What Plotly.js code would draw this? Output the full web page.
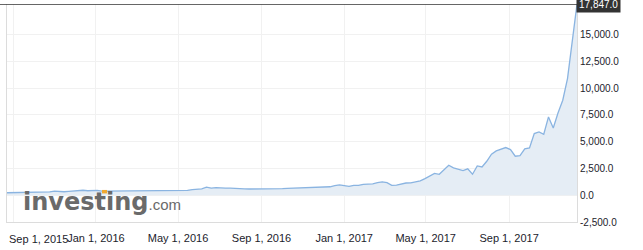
<!DOCTYPE html>
<html>
<head>
<meta charset="utf-8">
<script src="https://cdn.plot.ly/plotly-3.0.1.min.js"></script>
<style>html,body{margin:0;padding:0;background:#fff;}#chart{width:643px;height:250px;}</style>
</head>
<body>
<div id="chart"></div>
<script>
// Weekly dates (week start) and closing values
const dates2015 = ['2015-08-23','2015-08-30','2015-09-06','2015-09-13','2015-09-20','2015-09-27','2015-10-04','2015-10-11','2015-10-18','2015-10-25','2015-11-01','2015-11-08','2015-11-15','2015-11-22','2015-11-29','2015-12-06','2015-12-13','2015-12-20','2015-12-27'];
const values2015 = [229,235,235,232,235,238,246,270,283,314,385,333,323,357,389,435,463,416,434];

const dates2016 = ['2016-01-03','2016-01-10','2016-01-17','2016-01-24','2016-01-31','2016-02-07','2016-02-14','2016-02-21','2016-02-28','2016-03-06','2016-03-13','2016-03-20','2016-03-27','2016-04-03','2016-04-10','2016-04-17','2016-04-24','2016-05-01','2016-05-08','2016-05-15','2016-05-22','2016-05-29','2016-06-05','2016-06-12','2016-06-19','2016-06-26','2016-07-03','2016-07-10','2016-07-17','2016-07-24','2016-07-31','2016-08-07','2016-08-14','2016-08-21','2016-08-28','2016-09-04','2016-09-11','2016-09-18','2016-09-25','2016-10-02','2016-10-09','2016-10-16','2016-10-23','2016-10-30','2016-11-06','2016-11-13','2016-11-20','2016-11-27','2016-12-04','2016-12-11','2016-12-18','2016-12-25'];
const values2016 = [448,387,388,378,376,391,438,432,398,411,409,416,420,419,430,447,448,458,456,443,528,573,587,753,663,703,651,663,655,655,587,585,581,579,599,623,606,602,614,618,637,657,715,703,705,749,735,765,772,789,891,963];

const dates2017 = ['2017-01-01','2017-01-08','2017-01-15','2017-01-22','2017-01-29','2017-02-05','2017-02-12','2017-02-19','2017-02-26','2017-03-05','2017-03-12','2017-03-19','2017-03-26','2017-04-02','2017-04-09','2017-04-16','2017-04-23','2017-04-30','2017-05-07','2017-05-14','2017-05-21','2017-05-28','2017-06-04','2017-06-11','2017-06-18','2017-06-25','2017-07-02','2017-07-09','2017-07-16','2017-07-23','2017-07-30','2017-08-06','2017-08-13','2017-08-20','2017-08-27','2017-09-03','2017-09-10','2017-09-17','2017-09-24','2017-10-01','2017-10-08','2017-10-15','2017-10-22','2017-10-29','2017-11-05','2017-11-12','2017-11-19','2017-11-26','2017-12-03','2017-12-10'];
const values2017 = [896,822,922,919,1020,1000,1050,1170,1250,1180,920,950,1060,1140,1160,1230,1335,1555,1800,2030,1950,2400,2800,2560,2430,2300,2460,1960,2735,2640,3170,3825,4133,4300,4450,4264,3639,3704,4320,4413,5757,5906,5691,7305,6280,7680,8864,10888,14462,17847];

const xTickVals = ['2015-09-01','2016-01-01','2016-05-01','2016-09-01','2017-01-01','2017-05-01','2017-09-01'];
const xTickLabels = ['Sep 1, 2015','Jan 1, 2016','May 1, 2016','Sep 1, 2016','Jan 1, 2017','May 1, 2017','Sep 1, 2017'];
const yTickVals = [-2500,0,2500,5000,7500,10000,12500,15000];
const yTickLabels = ['-2,500.0','0.0','2,500.0','5,000.0','7,500.0','10,000.0','12,500.0','15,000.0'];
const lastLabel = '17,847.0';

const dates = dates2015.concat(dates2016, dates2017);
const values = values2015.concat(values2016, values2017);
const lastValue = values[values.length - 1];

const FONT = 'Arial, "Liberation Sans", sans-serif';

const trace = {
  x: dates, y: values, type: 'scatter', mode: 'lines',
  line: {color: '#8ab4e1', width: 1.3},
  fill: 'tozeroy', fillcolor: '#e5edf5',
  hoverinfo: 'skip'
};

const layout = {
  width: 643, height: 250,
  margin: {l: 7, r: 66, t: 4, b: 28},
  paper_bgcolor: '#ffffff', plot_bgcolor: '#ffffff',
  showlegend: false,
  font: {family: FONT, size: 11, color: '#1c1c2c'},
  xaxis: {
    type: 'date', range: [dates[0], dates[dates.length - 1]],
    tickmode: 'array', tickvals: xTickVals,
    ticktext: xTickLabels.map((t, i) => i === 0 ? '' : t),
    showgrid: true, gridcolor: '#f1f1f1', gridwidth: 1,
    showline: true, linecolor: '#dcdcdc', linewidth: 1,
    ticks: '', zeroline: false, fixedrange: true,
    ticklabelstandoff: 6,
    tickfont: {family: FONT, size: 11, color: '#1c1c2c'}
  },
  yaxis: {
    side: 'right', range: [-2500, lastValue],
    tickmode: 'array', tickvals: yTickVals, ticktext: yTickLabels,
    showgrid: true, gridcolor: '#f1f1f1', gridwidth: 1,
    showline: true, mirror: true, linecolor: '#dcdcdc', linewidth: 1,
    ticks: '', zeroline: false, fixedrange: true,
    tickfont: {family: FONT, size: 10, color: '#1c1c2c'}
  },
  shapes: [{
    type: 'line', xref: 'paper', yref: 'y',
    x0: -0.013, x1: 1, y0: lastValue, y1: lastValue,
    line: {color: '#333333', width: 1.5}
  }, {
    type: 'rect', xref: 'paper', yref: 'paper',
    x0: 0.1667, x1: 0.1754, y0: 0.131, y1: 0.147,
    fillcolor: '#f0a830', line: {width: 0}
  }],
  annotations: [{
    xref: 'paper', yref: 'y', x: 1, y: lastValue,
    xanchor: 'left', yanchor: 'middle', xshift: -1,
    text: lastLabel, showarrow: false,
    bgcolor: '#333333', borderpad: 2,
    font: {family: FONT, size: 10, color: '#ffffff'}
  }, {
    xref: 'paper', yref: 'paper', x: 0, y: 0, yshift: -17,
    xanchor: 'left', yanchor: 'middle',
    text: xTickLabels[0], showarrow: false,
    font: {family: FONT, size: 11, color: '#1c1c2c'}
  }, {
    xref: 'paper', yref: 'paper', x: 0.024, y: 0.09,
    xanchor: 'left', yanchor: 'middle',
    text: '<b>investing</b><span style="font-family:Arial;font-weight:normal;font-size:15px;">.com</span>',
    showarrow: false,
    font: {family: '"DejaVu Sans", Arial, sans-serif', size: 24, color: '#6a6a6a'}
  }]
};

Plotly.newPlot('chart', [trace], layout, {staticPlot: true, displayModeBar: false});
</script>
</body>
</html>
